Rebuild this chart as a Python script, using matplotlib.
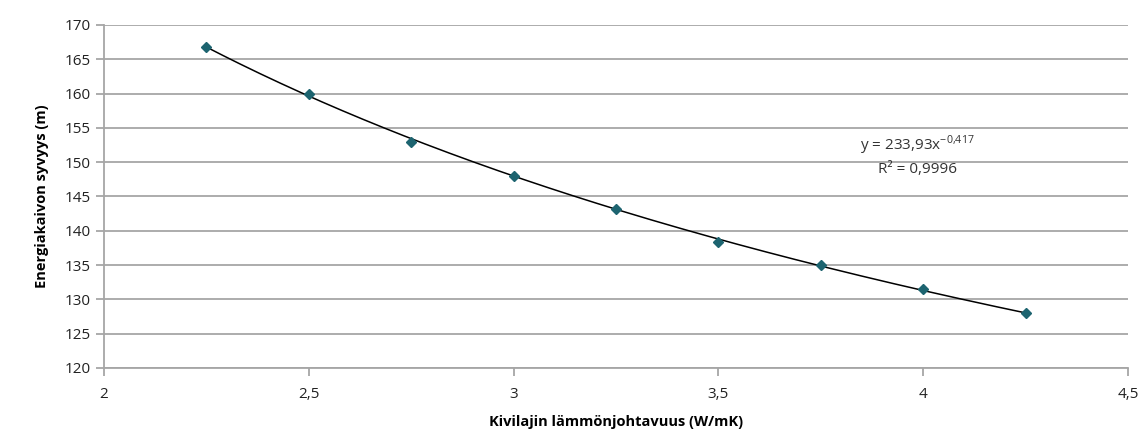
import numpy as np
import matplotlib.pyplot as plt
from matplotlib.ticker import FuncFormatter

plt.rcParams['font.family'] = ['Open Sans', 'DejaVu Sans']
plt.rcParams['mathtext.fontset'] = 'custom'
plt.rcParams['mathtext.rm'] = 'Open Sans'

# rock thermal conductivity vs borehole depth
conductivity = [2.25, 2.5, 2.75, 3.0, 3.25, 3.5, 3.75, 4.0, 4.25]
depth = [166.8, 160.0, 153.0, 148.0, 143.2, 138.4, 135.0, 131.5, 128.0]

x_ticks = [2, 2.5, 3, 3.5, 4, 4.5]
y_ticks = [120, 125, 130, 135, 140, 145, 150, 155, 160, 165, 170]

fig = plt.figure(figsize=(11.39, 4.37), dpi=100)
ax = fig.add_axes([0.0913, 0.158, 0.899, 0.785])

# power trendline fitted in log-log space (like Excel)
b, ln_a = np.polyfit(np.log(conductivity), np.log(depth), 1)
xs = np.linspace(conductivity[0], conductivity[-1], 200)
ax.plot(xs, np.exp(ln_a) * xs ** b, color='black', lw=1.1, zorder=3)

ax.plot(conductivity, depth, linestyle='none', marker='D', markersize=5.5,
        color='#1d6470', markeredgecolor='#1d6470', zorder=4)

ax.text(3.985, 152.4, r'y = 233,93x$^{\mathregular{-0{,}417}}$', ha='center', va='center',
        fontsize=11, color='#333333')
ax.text(3.985, 148.9, 'R² = 0,9996', ha='center', va='center', fontsize=11, color='#333333')

ax.set_xlim(2, 4.5)
ax.set_ylim(120, 170)
ax.set_xticks(x_ticks)
ax.set_yticks(y_ticks)
ax.xaxis.set_major_formatter(FuncFormatter(lambda v, p: ('%g' % v).replace('.', ',')))
ax.grid(axis='y', color='#a6a6a6', lw=1.3)
ax.set_axisbelow(True)
for s in ['top', 'right']:
    ax.spines[s].set_visible(False)
for s in ['left', 'bottom']:
    ax.spines[s].set_color('#a6a6a6')
    ax.spines[s].set_linewidth(1.3)
ax.tick_params(axis='both', colors='#a6a6a6', labelcolor='#222222', labelsize=11, length=6, width=1.3)
ax.tick_params(axis='x', pad=8)

ax.set_xlabel('Kivilajin lämmönjohtavuus (W/mK)', fontsize=10.5, fontweight='bold', labelpad=9)
ax.set_ylabel('Energiakaivon syvyys (m)', fontsize=10.5, fontweight='bold', labelpad=11)

fig.savefig('out.png', dpi=100)
